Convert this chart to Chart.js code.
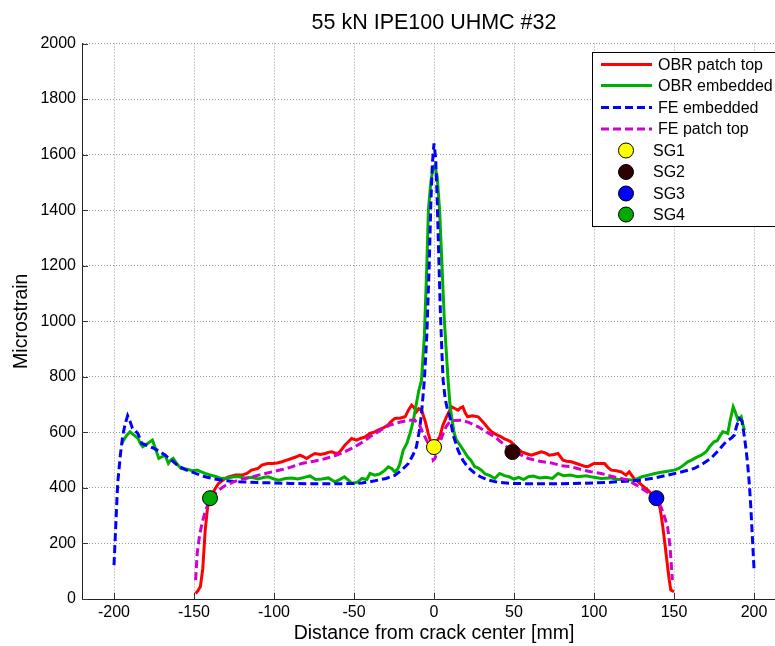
<!DOCTYPE html>
<html>
<head>
<meta charset="utf-8">
<script src="https://cdn.jsdelivr.net/npm/chart.js@4"></script>
<style>
  html, body { margin: 0; padding: 0; background: #fff; overflow: hidden; }
</style>
</head>
<body>
<canvas id="chart" width="800" height="646"></canvas>
<script>
const titleText = '55 kN IPE100 UHMC #32';
const xTitle = 'Distance from crack center [mm]';
const yTitle = 'Microstrain';
const xTicks = [-200, -150, -100, -50, 0, 50, 100, 150, 200];

// OBR patch top (red)
const obrTopX = [-149, -147.5, -146, -144.5, -143, -141.5, -140, -137, -134.7, -131, -128.5, -124, -120, -117, -114, -110, -107.6, -104, -101, -98, -95, -92, -89, -86, -83.7, -81.5, -79.6, -77, -74.4, -71, -68, -66, -64, -62, -59.8, -57.5, -55.7, -53.5, -51.5, -48.4, -46, -43, -40, -37, -35, -32, -29, -27, -24.5, -21, -18, -16, -14, -12.5, -11, -9.5, -7.8, -5.5, -3.6, -2, -0.5, 1, 2.5, 3.6, 5.5, 7.8, 9.5, 11, 13, 15, 16.5, 18, 19.5, 21, 24, 27.6, 31, 34, 36, 39, 42, 44, 46, 48, 51, 54.6, 57.5, 60.8, 64, 67, 69.5, 72, 75, 77.5, 80.6, 83, 85.8, 89, 92, 94, 96, 98, 100, 103, 106.6, 108.5, 110.8, 114, 117, 120, 122, 125, 128, 131, 133.7, 136.5, 138.5, 140, 141.5, 143, 144.5, 146, 147, 148, 150];
const obrTopY = [20, 30, 45, 110, 248, 330, 360, 395, 416, 432, 440, 446, 446, 452, 464, 470, 482, 488, 488, 490, 494, 500, 506, 512, 518, 512, 506, 516, 524, 520, 524, 528, 530, 526, 524, 540, 554, 566, 578, 572, 578, 584, 596, 602, 608, 615, 625, 638, 650, 652, 656, 680, 698, 690, 674, 685, 680, 640, 596, 565, 548, 560, 575, 584, 625, 656, 675, 692, 686, 680, 688, 692, 670, 656, 660, 656, 635, 614, 602, 592, 584, 576, 572, 566, 550, 530, 524, 518, 524, 530, 526, 518, 520, 524, 500, 496, 494, 488, 482, 478, 476, 482, 488, 488, 488, 475, 464, 462, 458, 446, 458, 434, 420, 405, 392, 375, 366, 356, 320, 260, 190, 116, 70, 32, 26];

// OBR embedded (green)
const obrEmbX = [-195, -194, -192, -190, -187.5, -185, -183.5, -182, -179, -176, -174, -172, -170, -168, -166, -164.5, -163, -160.5, -158, -155, -151, -148, -145.5, -143, -140, -136, -133, -129, -125, -122, -118, -114, -110, -106, -103.5, -100, -97, -93, -89, -85, -81, -77.5, -74, -70, -66, -62, -59, -56, -53, -51.5, -48, -45, -42, -40, -37, -34, -31, -28.6, -26.5, -24.5, -22.5, -21.3, -19.2, -17, -15, -13, -11, -9.5, -7.8, -6, -4.5, -3.5, -2, -0.5, 0.5, 2, 3.5, 5, 6.5, 8.8, 10, 11, 12.5, 14, 15.5, 17, 19, 21, 23, 25.5, 27.5, 29.6, 32, 35, 38, 41, 44, 47, 50, 53, 56, 59, 62, 66, 70, 74, 77.5, 81, 85, 90, 95, 100, 104.5, 110, 115, 120, 125, 130, 134, 138, 142, 146, 150, 153, 156, 158.6, 161, 164, 167, 170, 172.5, 175, 177, 179, 180.5, 182, 183.6, 185, 187, 188.5, 190, 191, 192, 193, 194];
const obrEmbY = [560, 572, 590, 602, 590, 578, 560, 548, 560, 572, 540, 506, 512, 518, 488, 500, 506, 485, 470, 468, 462, 464, 458, 452, 447, 440, 434, 436, 440, 440, 436, 438, 432, 438, 440, 432, 428, 434, 436, 432, 438, 443, 430, 432, 436, 422, 430, 440, 425, 416, 420, 434, 430, 452, 446, 450, 462, 476, 470, 458, 470, 488, 536, 560, 596, 640, 704, 750, 788, 950, 1200, 1400, 1500, 1555, 1560, 1520, 1400, 1200, 1000, 788, 700, 656, 600, 572, 560, 548, 530, 512, 500, 476, 472, 464, 450, 444, 434, 452, 444, 440, 432, 438, 430, 440, 443, 436, 438, 434, 452, 444, 446, 440, 444, 438, 434, 436, 430, 430, 428, 440, 446, 452, 456, 460, 464, 470, 482, 494, 500, 510, 518, 530, 550, 566, 570, 590, 602, 600, 596, 640, 692, 670, 644, 650, 656, 630, 608];

// FE embedded (blue dashed)
const feEmbX = [-200, -199, -198, -197.5, -196, -194.5, -193, -191.5, -190, -188.5, -187, -185, -182.6, -178, -175, -171, -165, -159.6, -155, -149, -143, -137, -130, -122, -110, -101, -90, -80, -70, -60, -50, -45, -40, -35, -30, -24.5, -20, -16, -13, -11, -9, -7.8, -6, -4.5, -3, -2, -1, 0, 1, 2, 3, 4, 5, 5.7, 7, 8.5, 9.9, 12, 15, 18, 21, 25, 29, 34, 40, 48, 60, 80, 100, 110, 120, 129.5, 138, 146, 155, 162.7, 168, 173, 177, 181.5, 184, 186, 187.7, 189, 190.8, 192.5, 194, 195, 196, 197, 198, 199, 200];
const feEmbY = [122, 250, 380, 428, 520, 590, 630, 660, 640, 615, 608, 595, 560, 550, 542, 530, 505, 478, 465, 452, 440, 432, 426, 422, 419, 418, 416, 415, 415, 415, 416, 418, 422, 428, 434, 445, 465, 488, 520, 548, 610, 668, 790, 950, 1200, 1420, 1570, 1640, 1590, 1440, 1230, 1030, 880, 788, 720, 680, 656, 590, 536, 500, 476, 455, 440, 428, 420, 416, 415, 415, 418, 420, 424, 428, 436, 446, 458, 470, 487, 506, 530, 560, 572, 580, 590, 620, 650, 640, 584, 540, 488, 420, 332, 220, 110];

// FE patch top (magenta dashed)
const feTopX = [-149, -148, -146.5, -145, -143, -141, -138, -134.7, -130, -126, -122, -116, -109.7, -101, -95, -90, -82.7, -75, -70, -64, -58, -51.5, -46, -40, -36, -32.8, -28, -24, -20.3, -16, -12, -9, -6.7, -4.5, -2.6, -1.2, -0.5, 0.5, 1.6, 3.5, 5.7, 7.5, 9.9, 13, 17, 22, 27.6, 32, 38, 43, 48, 54, 59, 66, 73.3, 79.6, 85.8, 92, 98, 104.5, 110.8, 116, 121, 126, 131.5, 136, 140, 143, 146, 147.5, 149];
const feTopY = [68, 164, 230, 272, 315, 344, 372, 392, 410, 420, 428, 436, 446, 458, 466, 474, 488, 496, 502, 512, 524, 542, 560, 584, 598, 610, 625, 632, 638, 643, 644, 625, 596, 570, 548, 520, 500, 505, 524, 560, 596, 620, 638, 643, 644, 635, 620, 604, 584, 560, 536, 520, 506, 496, 490, 480, 476, 466, 458, 452, 442, 435, 428, 412, 392, 374, 356, 315, 260, 190, 68];

// strain gauges
const sgNames = ['SG1', 'SG2', 'SG3', 'SG4'];
const sgX = [0, 49, 139, -140];
const sgY = [547, 529, 363, 363];
const sgColors = ['#ffff00', '#2e0000', '#0000ff', '#00aa00'];

const pts = (xs, ys) => xs.map((x, i) => ({ x: x, y: ys[i] }));

const lineSets = [
  { label: 'OBR patch top', data: pts(obrTopX, obrTopY), color: '#ff0000', dash: [] },
  { label: 'OBR embedded', data: pts(obrEmbX, obrEmbY), color: '#00b000', dash: [] },
  { label: 'FE embedded', data: pts(feEmbX, feEmbY), color: '#0000ff', dash: [8, 4] },
  { label: 'FE patch top', data: pts(feTopX, feTopY), color: '#d000d0', dash: [8, 4] }
];

const datasets = lineSets.map((s, i) => ({
  label: s.label,
  data: s.data,
  showLine: true,
  borderColor: s.color,
  backgroundColor: s.color,
  borderWidth: 3,
  borderDash: s.dash,
  pointRadius: 0,
  tension: 0,
  order: 20 - i
}));
sgNames.forEach((n, i) => {
  datasets.push({
    label: n,
    data: [{ x: sgX[i], y: sgY[i] }],
    showLine: false,
    pointRadius: 7.5,
    pointBackgroundColor: sgColors[i],
    pointBorderColor: '#000',
    pointBorderWidth: 1,
    order: 5 - i
  });
});

const FONT = '"Liberation Sans", Arial, sans-serif';

const decorations = {
  id: 'decorations',
  afterDraw(chart) {
    const ctx = chart.ctx;
    const a = chart.chartArea;
    const xs = chart.scales.x, ys = chart.scales.y;
    ctx.save();
    // inward tick marks
    ctx.strokeStyle = '#333';
    ctx.lineWidth = 1;
    ctx.beginPath();
    xTicks.forEach(v => {
      const px = Math.round(xs.getPixelForValue(v)) + 0.5;
      ctx.moveTo(px, a.bottom);
      ctx.lineTo(px, a.bottom - 6);
    });
    ys.ticks.forEach(t => {
      const py = Math.round(ys.getPixelForValue(t.value)) + 0.5;
      ctx.moveTo(a.left, py);
      ctx.lineTo(a.left + 6, py);
    });
    ctx.stroke();

    // titles
    ctx.fillStyle = '#000';
    ctx.textAlign = 'center';
    ctx.textBaseline = 'middle';
    ctx.font = '21.5px ' + FONT;
    ctx.fillText(titleText, (a.left + a.right) / 2, 23);
    ctx.font = '19.5px ' + FONT;
    ctx.fillText(xTitle, (a.left + a.right) / 2, 634);
    ctx.save();
    ctx.translate(22, (a.top + a.bottom) / 2);
    ctx.rotate(-Math.PI / 2);
    ctx.fillText(yTitle, 0, 0);
    ctx.restore();

    // legend box
    const lx = 592.5, ly = 52.5, lw = 190, lh = 174;
    ctx.fillStyle = '#fff';
    ctx.fillRect(lx, ly, lw, lh);
    ctx.strokeStyle = '#000';
    ctx.lineWidth = 1;
    ctx.strokeRect(lx, ly, lw, lh);
    ctx.font = '16px ' + FONT;
    ctx.textAlign = 'left';
    const rowY = [64.5, 85.5, 107.5, 129, 150.5, 172, 193.5, 214.5];
    lineSets.forEach((s, i) => {
      ctx.strokeStyle = s.color;
      ctx.lineWidth = 3;
      ctx.setLineDash(s.dash);
      ctx.beginPath();
      ctx.moveTo(601, rowY[i]);
      ctx.lineTo(652, rowY[i]);
      ctx.stroke();
      ctx.setLineDash([]);
      ctx.fillStyle = '#000';
      ctx.fillText(s.label, 658, rowY[i] + 1);
    });
    sgNames.forEach((n, i) => {
      const y = rowY[4 + i];
      ctx.beginPath();
      ctx.arc(626, y, 7.5, 0, Math.PI * 2);
      ctx.fillStyle = sgColors[i];
      ctx.fill();
      ctx.lineWidth = 1;
      ctx.strokeStyle = '#000';
      ctx.stroke();
      ctx.fillStyle = '#000';
      ctx.fillText(n, 653, y + 1);
    });
    ctx.restore();
  }
};

new Chart(document.getElementById('chart'), {
  type: 'scatter',
  data: { datasets: datasets },
  options: {
    responsive: false,
    animation: false,
    devicePixelRatio: 1,
    layout: { padding: { left: 0, right: 14, top: 43.5, bottom: 0 } },
    plugins: {
      legend: { display: false },
      title: { display: false },
      tooltip: { enabled: false }
    },
    scales: {
      x: {
        type: 'linear',
        min: -220,
        max: 220,
        afterBuildTicks: s => { s.ticks = xTicks.map(v => ({ value: v })); },
        afterFit: s => { s.height = 47; },
        ticks: { color: '#000', font: { family: FONT, size: 16 }, padding: 4, maxRotation: 0,
                 callback: v => String(v) },
        grid: { color: '#9a9a9a', drawTicks: false, lineWidth: 1 },
        border: { display: true, color: '#222', width: 1, dash: [1, 2] }
      },
      y: {
        type: 'linear',
        min: 0,
        max: 2000,
        ticks: { stepSize: 200, color: '#000', font: { family: FONT, size: 16 }, padding: 6,
                 callback: v => String(v) },
        afterFit: s => { s.width = 82; },
        grid: { color: '#9a9a9a', drawTicks: false, lineWidth: 1 },
        border: { display: true, color: '#222', width: 1, dash: [1, 2] }
      }
    }
  },
  plugins: [decorations]
});
</script>
</body>
</html>
